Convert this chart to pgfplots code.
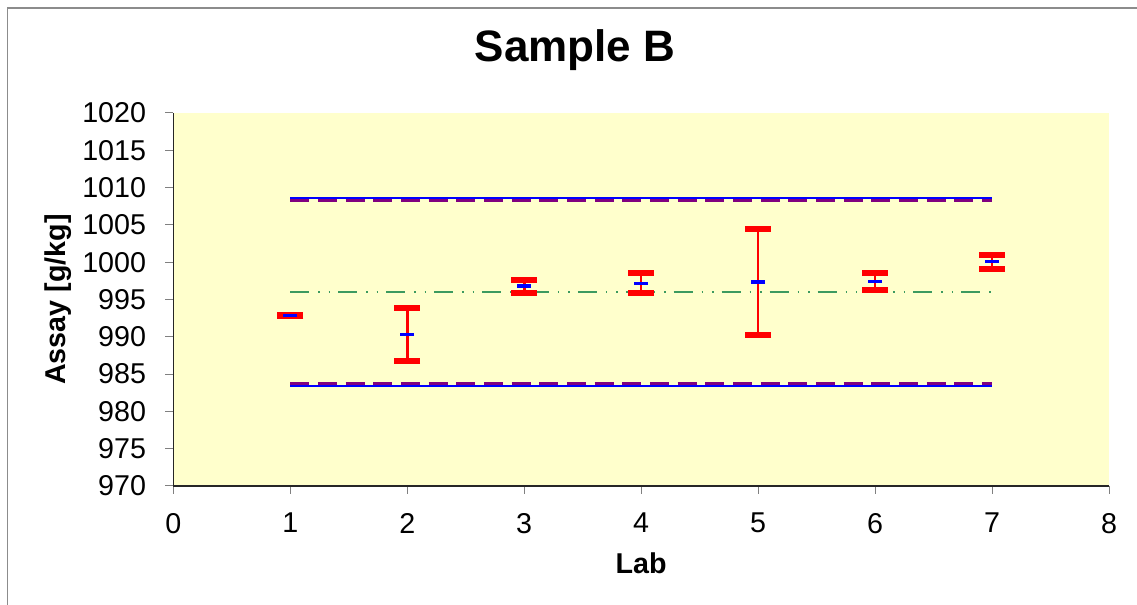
\documentclass[border=0pt]{standalone}
\usepackage{pgfplots}
\pgfplotsset{compat=1.18}
\usepackage{fontspec}
\setmainfont{Liberation Sans}
\definecolor{bgyellow}{HTML}{FFFFCC}
\definecolor{dgreen}{HTML}{3C9A5F}
\definecolor{purp}{HTML}{800080}
\begin{document}
\begin{tikzpicture}
\useasboundingbox (-130pt,-89.25pt) rectangle (722.8pt,364.5pt);
\draw[gray!90, line width=0.8pt] (-124.7pt,-100pt) -- (-124.7pt,358.5pt) -- (740pt,358.5pt);
\begin{axis}[
  at={(0pt,0pt)}, anchor=south west,
  scale only axis, width=701.8pt, height=279.75pt,
  xmin=0, xmax=8, ymin=970, ymax=1020,
  xtick={0,...,8}, ytick={970,975,...,1020},
  axis x line*=bottom, axis y line*=left,
  axis line style={-, black!85, line width=0.9pt},
  tick align=outside, major tick length=6pt,
  tick style={gray, line width=0.75pt},
  axis background/.style={fill=bgyellow},
  /pgf/number format/assume math mode=true,
  /pgf/number format/.cd, 1000 sep={}, /pgfplots/.cd,
  tick label style={font=\fontsize{21.5pt}{24pt}\selectfont, inner sep=0pt},
  xticklabel shift=14.25pt,
  yticklabel shift=14.25pt,
  title={Sample B},
  title style={at={(axis description cs:0.4293,1.117)}, anchor=base, font=\fontsize{33pt}{36pt}\selectfont\bfseries, inner sep=0pt},
  xlabel={Lab},
  xlabel style={at={(axis description cs:0.5,-0.2341)}, anchor=base, font=\fontsize{21.5pt}{24pt}\selectfont\bfseries, inner sep=0pt},
  ylabel={Assay [g/kg]},
  ylabel style={at={(axis description cs:-0.1157,0.5)}, anchor=base, font=\fontsize{21.5pt}{24pt}\selectfont\bfseries, inner sep=0pt},
  clip=false,
]
\addplot[purp, line width=1.9pt, dash pattern=on 14.25pt off 6.5pt] coordinates {(1,1008.3) (7,1008.3)};
\addplot[purp, line width=1.9pt, dash pattern=on 14.25pt off 6.5pt] coordinates {(1,983.75) (7,983.75)};
\addplot[blue, line width=1.9pt] coordinates {(1,1008.6) (7,1008.6)};
\addplot[blue, line width=1.9pt] coordinates {(1,983.4) (7,983.4)};
\addplot[dgreen, line width=1.5pt, dash pattern=on 14.25pt off 6.75pt on 1.1pt off 6.75pt on 1.1pt off 6pt] coordinates {(1,996.0) (7,996.0)};
\addplot[only marks, mark=-, mark size=5.25pt, mark options={blue, line width=2.5pt},
  error bars/.cd, y dir=both, y explicit,
  error bar style={red, line width=2pt},
  error mark=|, error mark options={red, line width=4.5pt, mark size=9.75pt}]
  table[x=x, y=y, y error plus=ep, y error minus=em] {
x y ep em
1 992.86 0.12 0.12
2 990.3 3.5 3.5
3 996.8 0.87 0.87
4 997.18 1.34 1.34
5 997.36 7.1 7.1
6 997.4 1.12 1.14
7 1000.08 0.94 1.06
};
\end{axis}
\end{tikzpicture}
\end{document}
